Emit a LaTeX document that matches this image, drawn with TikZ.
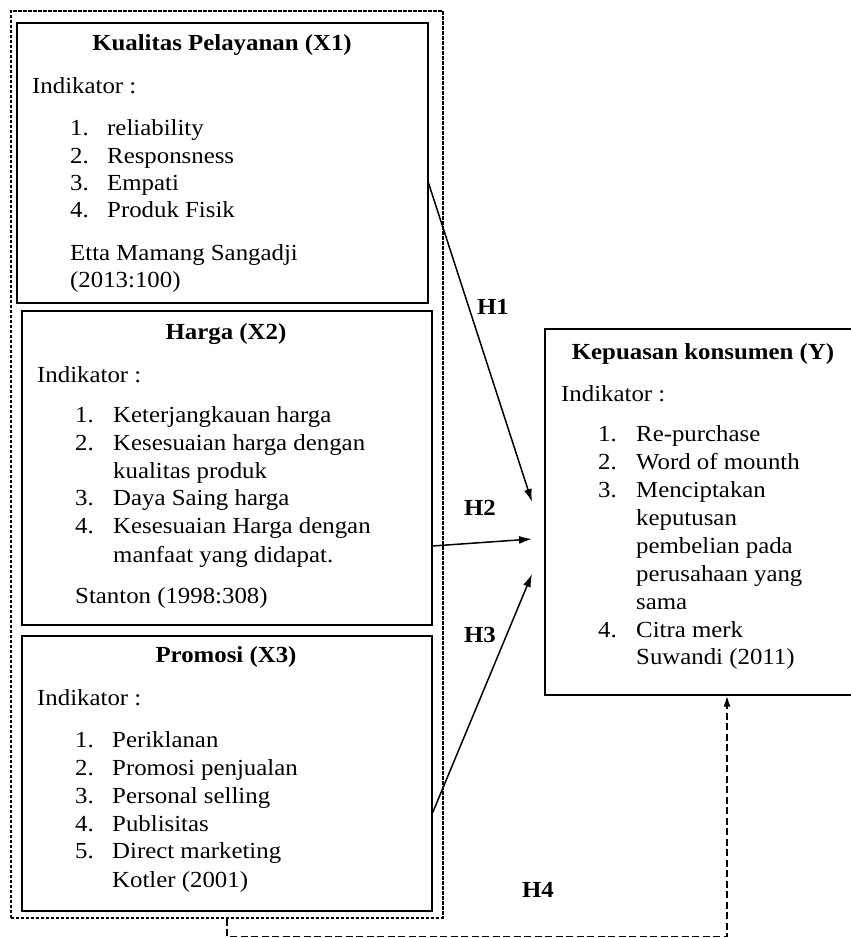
\documentclass[tikz,border=0pt]{standalone}
\usepackage{fontspec}
\setmainfont{Liberation Serif}[FakeStretch=1.08]
\usetikzlibrary{arrows.meta,calc}
\begin{document}
\begin{tikzpicture}[x=1pt,y=-1pt,
  box/.style={draw, line width=1.5pt, inner sep=0pt, anchor=north west},
  grpbox/.style={draw, dash pattern=on 3.5pt off 1.5pt, line width=1.5pt, inner sep=0pt, anchor=north west},
  tx/.style={anchor=base west, inner sep=0pt, font=\fontsize{23}{28}\selectfont},
  ttl/.style={anchor=base, inner sep=0pt, font=\fontsize{23}{28}\selectfont\bfseries},
  hl/.style={inner sep=0pt, font=\fontsize{23}{28}\selectfont\bfseries},
  arr/.style={line width=1.5pt, -{Latex[length=13pt,width=8pt]}},
  h4line/.style={line width=1.8pt, dash pattern=on 7pt off 3.5pt, -{Latex[length=11pt,width=7pt]}}
]
\useasboundingbox (0,0) rectangle (851,938);
% group
\node[grpbox, minimum width=432pt, minimum height=907pt] (grp) at (10,10) {};
% boxes
\node[box, minimum width=411pt, minimum height=280pt] (x1) at (16,22) {};
\node[box, minimum width=410pt, minimum height=314pt] (x2) at (21,310) {};
\node[box, minimum width=410pt, minimum height=275pt] (x3) at (21,635) {};
\node[box, minimum width=318pt, minimum height=366pt] (y) at (544,328) {};
% X1 text
\node[ttl] (x1t) at (222,50) {Kualitas Pelayanan (X1)};
\node[tx] (x1i) at (32,93) {Indikator :};
\node[tx] (x1n1) at (70,135) {1.};  \node[tx] (x1a) at (107,135) {reliability};
\node[tx] (x1n2) at (70,163) {2.};  \node[tx] (x1b) at (107,163) {Responsness};
\node[tx] (x1n3) at (70,190) {3.};  \node[tx] (x1c) at (107,190) {Empati};
\node[tx] (x1n4) at (70,217) {4.};  \node[tx] (x1d) at (107,217) {Produk Fisik};
\node[tx] (x1s1) at (70,260) {Etta Mamang Sangadji};
\node[tx] (x1s2) at (70,287) {(2013:100)};
% X2 text
\node[ttl] (x2t) at (226,339) {Harga (X2)};
\node[tx] (x2i) at (37,382) {Indikator :};
\node[tx] (x2n1) at (75,422) {1.};  \node[tx] (x2a) at (113,422) {Keterjangkauan harga};
\node[tx] (x2n2) at (75,450) {2.};  \node[tx] (x2b) at (113,450) {Kesesuaian harga dengan};
\node[tx] (x2b2) at (113,478) {kualitas produk};
\node[tx] (x2n3) at (75,505) {3.};  \node[tx] (x2c) at (113,505) {Daya Saing harga};
\node[tx] (x2n4) at (75,533) {4.};  \node[tx] (x2d) at (113,533) {Kesesuaian Harga dengan};
\node[tx] (x2d2) at (113,562) {manfaat yang didapat.};
\node[tx] (x2s) at (75,603) {Stanton (1998:308)};
% X3 text
\node[ttl] (x3t) at (226,662) {Promosi (X3)};
\node[tx] (x3i) at (37,705) {Indikator :};
\node[tx] (x3n1) at (75,747) {1.};  \node[tx] (x3a) at (112,747) {Periklanan};
\node[tx] (x3n2) at (75,775) {2.};  \node[tx] (x3b) at (112,775) {Promosi penjualan};
\node[tx] (x3n3) at (75,803) {3.};  \node[tx] (x3c) at (112,803) {Personal selling};
\node[tx] (x3n4) at (75,831) {4.};  \node[tx] (x3d) at (112,831) {Publisitas};
\node[tx] (x3n5) at (75,858) {5.};  \node[tx] (x3e) at (112,858) {Direct marketing};
\node[tx] (x3s) at (112,887) {Kotler (2001)};
% Y text
\node[ttl] (yt) at (703,359) {Kepuasan konsumen (Y)};
\node[tx] (yi) at (561,401) {Indikator :};
\node[tx] (yn1) at (598,441) {1.};  \node[tx] (ya) at (636,441) {Re-purchase};
\node[tx] (yn2) at (598,469) {2.};  \node[tx] (yb) at (636,469) {Word of mounth};
\node[tx] (yn3) at (598,497) {3.};  \node[tx] (yc) at (636,497) {Menciptakan};
\node[tx] (yc2) at (636,525) {keputusan};
\node[tx] (yc3) at (636,553) {pembelian pada};
\node[tx] (yc4) at (636,581) {perusahaan yang};
\node[tx] (yc5) at (636,609) {sama};
\node[tx] (yn4) at (598,637) {4.};  \node[tx] (yd) at (636,637) {Citra merk};
\node[tx] (ys) at (636,664) {Suwandi (2011)};
% hypothesis labels
\node[hl] (h1) at (493,307) {H1};
\node[hl] (h2) at (480,508) {H2};
\node[hl] (h3) at (480,635) {H3};
\node[hl] (h4) at (538,890) {H4};
% arrow tips
\coordinate (t1) at (532,502);
\coordinate (t2) at (532,539);
\coordinate (t3) at (532,574);
\draw[arr] (x1.east |- 0,183) -- (t1);
\draw[arr] (x2.east |- 0,546) -- (t2);
\draw[arr] (x3.east |- 0,813) -- (t3);
\draw[h4line] (grp.south -| 227,0) -- ++(0,18) -| (y.south -| 727,0);
\end{tikzpicture}
\end{document}
